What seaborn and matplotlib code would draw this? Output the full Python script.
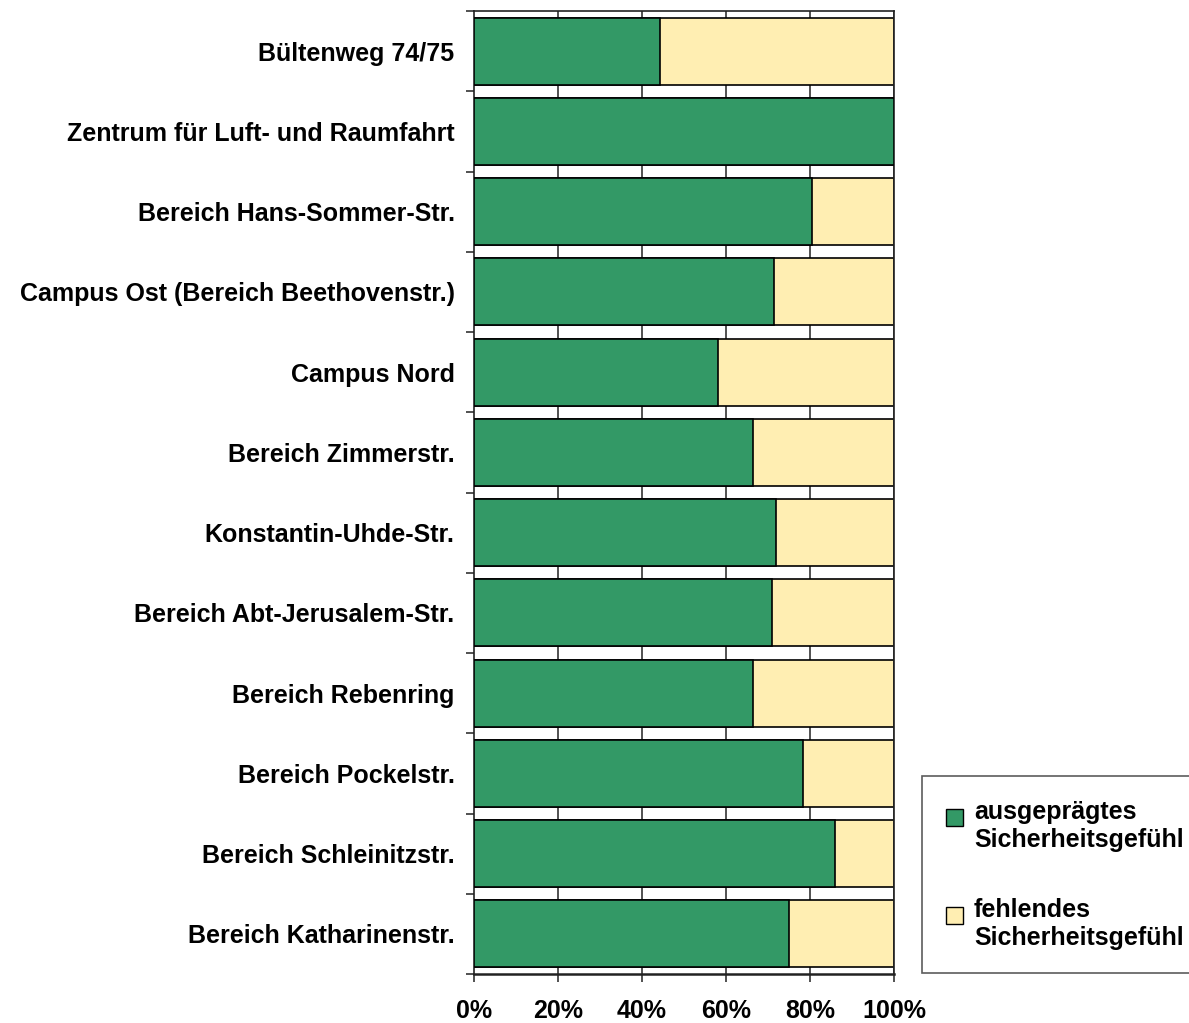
import matplotlib
matplotlib.use("Agg")
import matplotlib.pyplot as plt
import seaborn as sns
import pandas as pd
from matplotlib.patches import Patch, Rectangle
from matplotlib.legend_handler import HandlerPatch

# Standorte (top to bottom) and share with pronounced feeling of safety (%)
locations = [
    "Bültenweg 74/75",
    "Zentrum für Luft- und Raumfahrt",
    "Bereich Hans-Sommer-Str.",
    "Campus Ost (Bereich Beethovenstr.)",
    "Campus Nord",
    "Bereich Zimmerstr.",
    "Konstantin-Uhde-Str.",
    "Bereich Abt-Jerusalem-Str.",
    "Bereich Rebenring",
    "Bereich Pockelstr.",
    "Bereich Schleinitzstr.",
    "Bereich Katharinenstr.",
]
ausgepraegt = [44.3, 100.0, 80.5, 71.4, 58.1, 66.4, 71.9, 71.0, 66.4, 78.3, 86.0, 75.0]
fehlend = [100.0 - v for v in ausgepraegt]
series_labels = ["ausgeprägtes\nSicherheitsgefühl", "fehlendes\nSicherheitsgefühl"]
tick_labels = ["0%", "20%", "40%", "60%", "80%", "100%"]

green = "#339966"
yellow = "#FFEEB2"

df = pd.DataFrame({"ort": locations, "gruen": ausgepraegt, "gelb": fehlend})
df["gesamt"] = df["gruen"] + df["gelb"]

sns.set_style("white")
plt.rcParams["font.family"] = ["Liberation Sans", "DejaVu Sans"]
plt.rcParams["font.weight"] = "bold"
plt.rcParams["text.color"] = "black"
plt.rcParams["xtick.color"] = "black"
plt.rcParams["ytick.color"] = "black"

fig = plt.figure(figsize=(11.89, 10.23), dpi=100)
ax = fig.add_axes([474 / 1189, 1 - 974 / 1023, 420 / 1189, 963 / 1023])

# vertical grid lines behind the bars
for v in [20, 40, 60, 80, 100]:
    ax.axvline(v, color="#333333", lw=1.2, zorder=0)

# stacked bars: full bar in yellow, green part on top
sns.barplot(data=df, x="gesamt", y="ort", orient="h", color=yellow, saturation=1,
            edgecolor="black", linewidth=1.2, width=0.835, ax=ax, zorder=2)
sns.barplot(data=df, x="gruen", y="ort", orient="h", color=green, saturation=1,
            edgecolor="black", linewidth=1.2, width=0.835, ax=ax, zorder=3)

ax.set_xlim(0, 100)
ax.set_ylim(len(locations) - 0.5, -0.5)
ax.set_xticks([0, 20, 40, 60, 80, 100])
ax.set_xticklabels(tick_labels, fontsize=18, fontweight="bold")
ax.set_yticks(range(len(locations)))
ax.set_yticklabels(locations, fontsize=18, fontweight="bold")
ax.set_yticks([i - 0.5 for i in range(len(locations) + 1)], minor=True)
ax.tick_params(axis="y", which="major", length=0, pad=14)
ax.tick_params(axis="y", which="minor", length=6, width=1.2, color="#333333", direction="out", left=True)
ax.tick_params(axis="x", which="major", length=6, width=1.2, color="#333333", direction="out", bottom=True, pad=12)
ax.set_xlabel("")
ax.set_ylabel("")

for side in ["left", "bottom", "top", "right"]:
    ax.spines[side].set_visible(True)
    ax.spines[side].set_color("#222222")
    ax.spines[side].set_linewidth(1.2)
ax.spines["bottom"].set_linewidth(1.8)


# legend square sits next to the first text line (like Excel)
def top_square(legend, orig_handle, xdescent, ydescent, width, height, fontsize):
    s = 0.68 * fontsize
    return Rectangle((-xdescent, -ydescent + height - s - 0.12 * fontsize), s, s)


handles = [Patch(facecolor=green, edgecolor="black", linewidth=1),
           Patch(facecolor=yellow, edgecolor="black", linewidth=1)]
leg = fig.legend(handles, series_labels, loc="upper left",
                 bbox_to_anchor=(922 / 1189, 1 - 776 / 1023),
                 frameon=True, fancybox=False, borderaxespad=0,
                 prop={"size": 18, "weight": "bold"},
                 handler_map={Patch: HandlerPatch(patch_func=top_square)},
                 handlelength=0.68, handleheight=2.3, handletextpad=0.45,
                 labelspacing=1.85, borderpad=0.95)
leg.get_frame().set_edgecolor("#333333")
leg.get_frame().set_linewidth(1.2)

fig.savefig("out.png", dpi=100)
